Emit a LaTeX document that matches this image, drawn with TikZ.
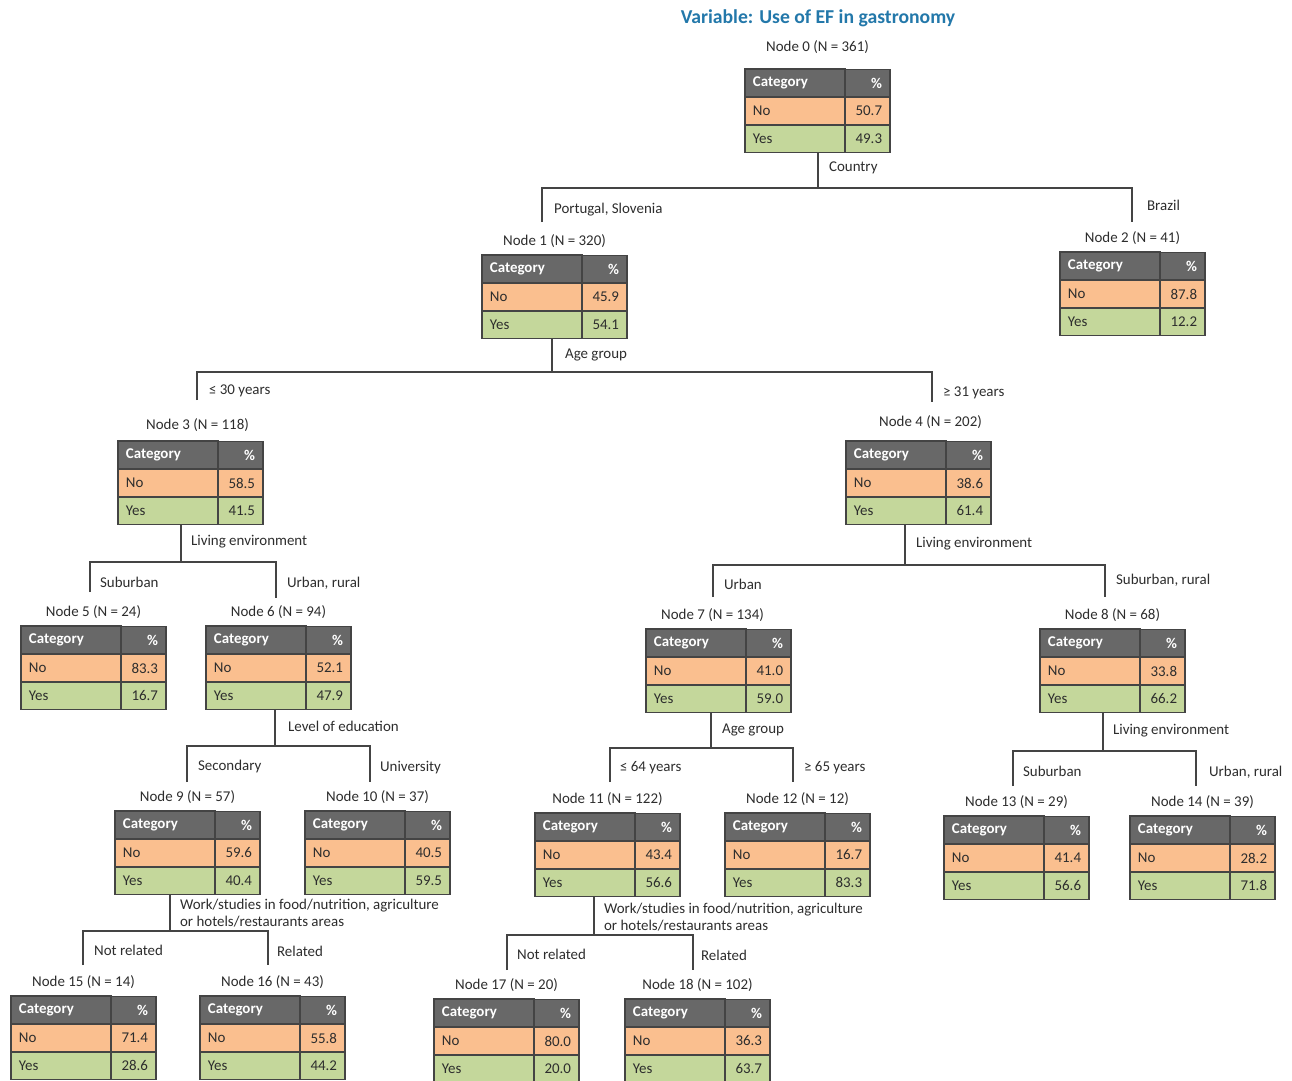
\documentclass[tikz,border=0pt]{standalone}
\usepackage{fontspec}
\setmainfont{Carlito}
\usetikzlibrary{positioning}
\definecolor{hdgray}{RGB}{104,104,104}
\definecolor{noorange}{RGB}{250,191,143}
\definecolor{yesgreen}{RGB}{196,215,155}
\definecolor{gridgray}{RGB}{68,68,68}
\definecolor{titleblue}{RGB}{35,120,170}
\definecolor{txt}{RGB}{45,45,45}
\newcommand{\lblfont}{\fontsize{8.5}{10}\selectfont}
\tikzstyle{cell} = [draw=gridgray, line width=0.8pt, minimum height=0.554cm, inner sep=4.5pt, outer sep=0pt, font=\lblfont, text=txt]
\tikzstyle{catcell} = [cell, minimum width=2cm, text width=2cm-9pt, align=left]
\tikzstyle{pctcell} = [cell, minimum width=0.9cm, text width=0.9cm-9pt, align=right]
\tikzstyle{head} = [fill=hdgray, text=white, font=\lblfont\bfseries]
\tikzstyle{lbl} = [font=\lblfont, text=txt, inner sep=1pt, anchor=west]
\tikzstyle{nlbl} = [font=\lblfont, text=txt, inner sep=1pt]
\tikzstyle{edge} = [draw=gridgray, line width=0.9pt]
% table: [label shift], name, x, y, label, no, yes
\newcommand{\cattable}[7][(0,0)]{%
    \node[nlbl, shift={#1}] (#2l) at ({#3+72.5},{#4-14}) {#5};
    \node[catcell, head, anchor=north west] (#2c) at (#3,#4) {Category};
    \node[pctcell, head, right=0pt of #2c] (#2p) {\%};
    \node[catcell, fill=noorange, below=0pt of #2c] (#2n) {No};
    \node[pctcell, fill=noorange, right=0pt of #2n] (#2nv) {#6};
    \node[catcell, fill=yesgreen, below=0pt of #2n] (#2y) {Yes};
    \node[pctcell, fill=yesgreen, right=0pt of #2y] (#2yv) {#7};
}
% split: parent, stem x, junction y, left x, right x, left end y, right end y
\newcommand{\branch}[7]{%
    \coordinate (#1j) at (#2,#3);
    \coordinate (#1a) at (#4,#6);
    \coordinate (#1b) at (#5,#7);
    \draw[edge] (#1y.south -| #1j) -- (#1j);
    \draw[edge] (#1a) |- (#1j) -| (#1b);
}

\begin{document}
\begin{tikzpicture}[x=0.02cm, y=-0.02cm]
    \useasboundingbox[fill=white] (0,0) rectangle (1292,1080);

    \node[font=\fontsize{11.2}{13}\selectfont\bfseries, text=titleblue] (title) at (818,18) {Variable: Use of EF in gastronomy};

    \cattable[(0,-8)]{t0}{745}{69}{Node 0 (N = 361)}{50.7}{49.3}
    \cattable{t1}{482}{255}{Node 1 (N = 320)}{45.9}{54.1}
    \cattable{t2}{1060}{252}{Node 2 (N = 41)}{87.8}{12.2}
    \cattable[(7,-2)]{t3}{118}{441}{Node 3 (N = 118)}{58.5}{41.5}
    \cattable[(12,-5)]{t4}{846}{441}{Node 4 (N = 202)}{38.6}{61.4}
    \cattable{t5}{21}{626}{Node 5 (N = 24)}{83.3}{16.7}
    \cattable{t6}{206}{626}{Node 6 (N = 94)}{52.1}{47.9}
    \cattable[(-6,0)]{t7}{646}{629}{Node 7 (N = 134)}{41.0}{59.0}
    \cattable{t8}{1040}{629}{Node 8 (N = 68)}{33.8}{66.2}
    \cattable{t9}{115}{811}{Node 9 (N = 57)}{59.6}{40.4}
    \cattable{t10}{305}{811}{Node 10 (N = 37)}{40.5}{59.5}
    \cattable{t11}{535}{813}{Node 11 (N = 122)}{43.4}{56.6}
    \cattable{t12}{725}{813}{Node 12 (N = 12)}{16.7}{83.3}
    \cattable{t13}{944}{816}{Node 13 (N = 29)}{41.4}{56.6}
    \cattable{t14}{1130}{816}{Node 14 (N = 39)}{28.2}{71.8}
    \cattable{t15}{11}{996}{Node 15 (N = 14)}{71.4}{28.6}
    \cattable{t16}{200}{996}{Node 16 (N = 43)}{55.8}{44.2}
    \cattable{t17}{434}{999}{Node 17 (N = 20)}{80.0}{20.0}
    \cattable{t18}{625}{999}{Node 18 (N = 102)}{36.3}{63.7}

    \branch{t0}{818}{188}{542}{1132}{222}{222}
    \branch{t1}{552}{372}{197}{932}{400}{402}
    \branch{t3}{181}{562}{90}{276}{592}{598}
    \branch{t4}{905}{565}{713}{1105}{597}{597}
    \branch{t6}{275}{746}{187}{370}{782}{782}
    \branch{t7}{711}{748}{610}{793}{782}{782}
    \branch{t8}{1103}{751}{1013}{1196}{786}{786}
    \branch{t9}{170}{931}{83}{268}{965}{965}
    \branch{t11}{594}{935}{507}{693}{970}{970}

    % split variables and categories
    \node[lbl] (v0) at (827,168) {Country};
    \node[lbl] (c1) at (552,210) {Portugal, Slovenia};
    \node[lbl] (c2) at (1145,205) {Brazil};
    \node[lbl] (v1) at (563,355) {Age group};
    \node[lbl] (c3) at (207,391) {≤ 30 years};
    \node[lbl] (c4) at (941,393) {≥ 31 years};
    \node[lbl] (v3) at (189,542) {Living environment};
    \node[lbl] (c5) at (98,582) {Suburban};
    \node[lbl] (c6) at (285,583) {Urban, rural};
    \node[lbl] (v4) at (914,544) {Living environment};
    \node[lbl] (c7) at (722,584) {Urban};
    \node[lbl] (c8) at (1114,580) {Suburban, rural};
    \node[lbl] (v6) at (286,726) {Level of education};
    \node[lbl] (c9) at (196,767) {Secondary};
    \node[lbl] (c10) at (378,768) {University};
    \node[lbl] (v7) at (720,730) {Age group};
    \node[lbl] (c11) at (618,768) {≤ 64 years};
    \node[lbl] (c12) at (802,768) {≥ 65 years};
    \node[lbl] (v8) at (1111,731) {Living environment};
    \node[lbl] (c13) at (1021,771) {Suburban};
    \node[lbl] (c14) at (1207,772) {Urban, rural};
    \node[lbl, align=left] (v9) at (178,913) {Work/studies in food/nutrition, agriculture\\or hotels/restaurants areas};
    \node[lbl] (c15) at (92,950) {Not related};
    \node[lbl] (c16) at (275,951) {Related};
    \node[lbl, align=left] (v11) at (602,917) {Work/studies in food/nutrition, agriculture\\or hotels/restaurants areas};
    \node[lbl] (c17) at (515,954) {Not related};
    \node[lbl] (c18) at (699,955) {Related};
\end{tikzpicture}
\end{document}
